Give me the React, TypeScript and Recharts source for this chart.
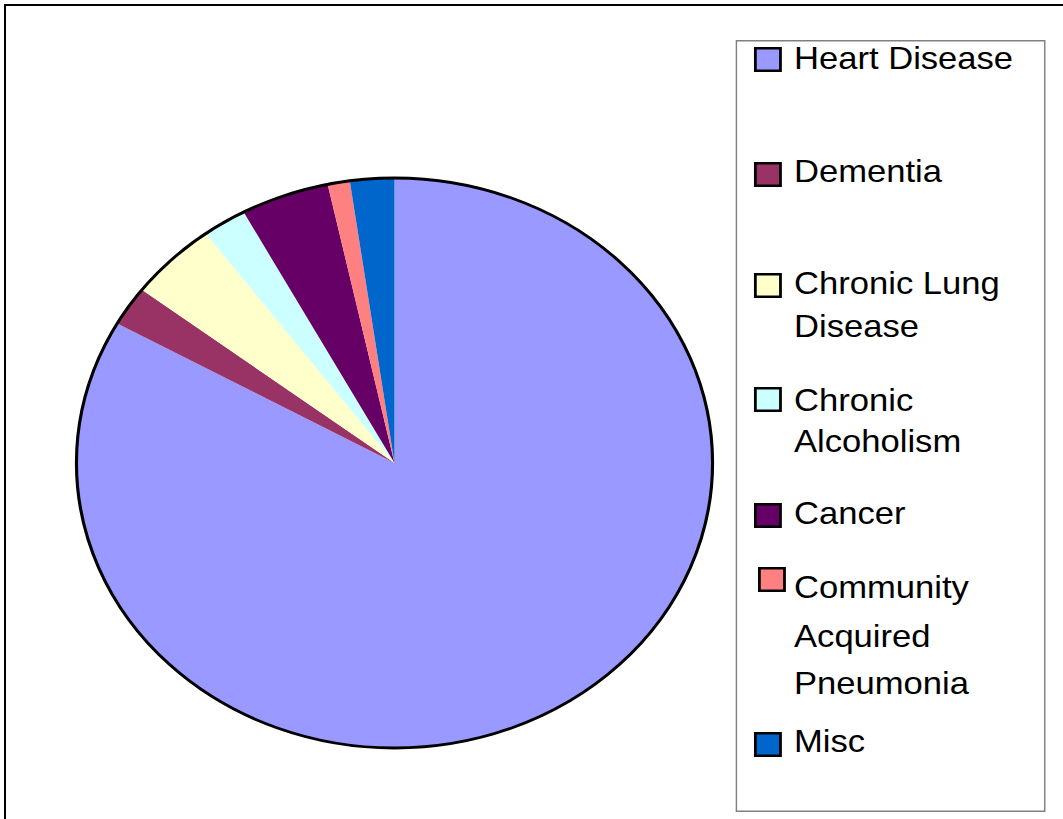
import React from 'react';
import { PieChart, Pie, Cell, Legend } from 'recharts';

// causes, counts (clockwise from 12 o'clock)
const causes = [
  'Heart Disease',
  'Dementia',
  'Chronic Lung Disease',
  'Chronic Alcoholism',
  'Cancer',
  'Community Acquired Pneumonia',
  'Misc',
];
const counts = [74, 2, 4, 2, 4, 1, 2];
const colors = ['#9999FF', '#993366', '#FFFFCC', '#CCFFFF', '#660066', '#FF8080', '#0066CC'];

// how the legend wraps each name
const legendLines = [
  ['Heart Disease'],
  ['Dementia'],
  ['Chronic Lung', 'Disease'],
  ['Chronic', 'Alcoholism'],
  ['Cancer'],
  ['Community', 'Acquired', 'Pneumonia'],
  ['Misc'],
];

const data = causes.map((name, i) => ({ name, value: counts[i] }));
const total = counts.reduce((a, b) => a + b, 0);

// the original picture is stretched sideways, so the whole chart is too
const SX = 1.116;
const W = 1063 / SX;
const H = 819;

// legend row placement (unstretched px, relative to legend box)
const rows = [
  { sx: 16.6, sy: 7, base: [29] },
  { sx: 16.6, sy: 122, base: [142] },
  { sx: 16.6, sy: 233, base: [254, 297] },
  { sx: 16.6, sy: 347, base: [371, 412] },
  { sx: 16.6, sy: 463, base: [484] },
  { sx: 20.2, sy: 527, base: [558, 607, 654] },
  { sx: 16.6, sy: 692, base: [712] },
];
const LEG_W = 278;
const LEG_H = 772;

const LegendBox = (props: any) => {
  const payload = (props.payload || []).filter((p: any) => causes.includes(p.value));
  return (
    <svg width={LEG_W} height={LEG_H} style={{ display: 'block' }}>
      <rect x={0.75} y={0.75} width={LEG_W - 1.5} height={LEG_H - 1.5} fill="#fff" stroke="#808080" strokeWidth={1.5} />
      {payload.map((p: any) => {
        const idx = causes.indexOf(p.value);
        const r = rows[idx];
        return (
          <g key={p.value}>
            <rect x={r.sx + 1.25} y={r.sy + 1.25} width={22.5} height={22.5} fill={colors[idx]} stroke="#000" strokeWidth={2.5} />
            {legendLines[idx].map((line, j) => (
              <text key={j} x={52.5} y={r.base[j]} fontFamily="'Liberation Sans', Arial, sans-serif" fontSize={31} fill="#000">
                {line}
              </text>
            ))}
          </g>
        );
      })}
    </svg>
  );
};

// outline only: a plain circle, no radial edges
const EdgeShape = (p: any) => (
  <circle cx={p.cx} cy={p.cy} r={p.outerRadius} fill="none" stroke="#000" strokeWidth={2.8} />
);

export default function App() {
  return (
    <div style={{ position: 'fixed', left: 0, top: 0, width: 1063, height: 819, overflow: 'hidden', background: '#fff' }}>
      <div style={{ position: 'absolute', left: 4, top: 4, width: 1200, height: 1000, borderTop: '2px solid #000', borderLeft: '2px solid #000' }} />
      <div style={{ position: 'absolute', left: 0, top: 0, width: W, height: H, transform: `scaleX(${SX})`, transformOrigin: '0 0' }}>
        <PieChart width={W} height={H} margin={{ top: 0, right: 0, bottom: 0, left: 0 }}>
          <Pie
            data={data}
            dataKey="value"
            nameKey="name"
            cx={353.5}
            cy={463}
            outerRadius={285}
            startAngle={90}
            endAngle={-270}
            stroke="none"
            isAnimationActive={false}
            legendType="square"
          >
            {data.map((d, i) => (
              <Cell key={d.name} fill={colors[i]} />
            ))}
          </Pie>
          {/* outer edge of the pie */}
          <Pie
            data={[{ name: 'edge', value: total }]}
            dataKey="value"
            cx={353.5}
            cy={463}
            outerRadius={285}
            shape={EdgeShape}
            isAnimationActive={false}
            legendType="none"
          />
          <Legend
            content={<LegendBox />}
            wrapperStyle={{ position: 'absolute', left: 659, top: 40, width: LEG_W, height: LEG_H }}
          />
        </PieChart>
      </div>
    </div>
  );
}
